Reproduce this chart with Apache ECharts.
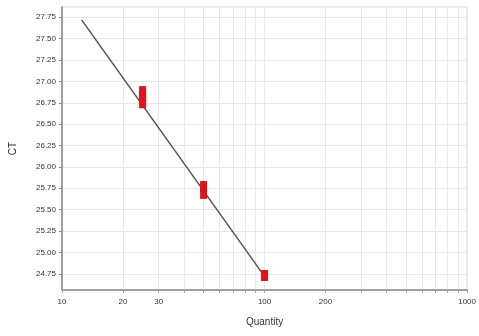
<!DOCTYPE html>
<html>
<head>
<meta charset="utf-8">
<script src="https://cdn.jsdelivr.net/npm/echarts@6/dist/echarts.min.js"></script>
<style>
  html, body { margin: 0; padding: 0; background: #fff; }
  #main { width: 479px; height: 336px; }
</style>
</head>
<body>
<div id="main"></div>
<script>
// standard curve: fitted line + replicate points
var fitQty = [12.5, 100];
var fitCt = [27.72, 24.72];

var sampleQty = [25, 25, 25, 50, 50, 100];
var sampleCt = [26.75, 26.82, 26.88, 25.69, 25.77, 24.73];

var xTickLabels = [10, 20, 30, 100, 200, 1000];
var xGridValues = [10, 20, 30, 40, 50, 60, 70, 80, 90, 100, 200, 300, 400, 500, 600, 700, 800, 900, 1000];
var yTickValues = [24.75, 25.00, 25.25, 25.50, 25.75, 26.00, 26.25, 26.50, 26.75, 27.00, 27.25, 27.50, 27.75];

function pairs(xs, ys) {
  var out = [];
  for (var i = 0; i < xs.length; i++) out.push([xs[i], ys[i]]);
  return out;
}

var myChart = echarts.init(document.getElementById('main'), null, {renderer: 'canvas'});
var font = 'Liberation Sans';
var option = {
  animation: false,
  backgroundColor: '#fff',
  grid: {
    left: 59, right: 11, top: 7, bottom: 46,
    show: true,
    borderColor: '#d8d8d8',
    borderWidth: 1
  },
  xAxis: {
    type: 'log',
    logBase: 10,
    min: 10,
    max: 1000,
    name: 'Quantity',
    nameLocation: 'middle',
    nameGap: 27,
    nameTextStyle: {fontFamily: font, fontSize: 10, color: '#333'},
    axisLine: {lineStyle: {color: '#888', width: 1.5}},
    axisTick: {show: true, length: 3, customValues: xGridValues, lineStyle: {color: '#aaa'}},
    axisLabel: {
      customValues: xTickLabels,
      fontFamily: font, fontSize: 8, color: '#333', margin: 8,
      formatter: function (v) { return String(Math.round(v)); }
    },
    splitLine: {show: true, lineStyle: {color: '#e8e8e8', width: 1}}
  },
  yAxis: {
    type: 'value',
    min: 24.56,
    max: 27.87,
    name: 'CT',
    nameLocation: 'middle',
    nameGap: 44,
    nameRotate: 90,
    nameTextStyle: {fontFamily: font, fontSize: 10, color: '#333'},
    axisLine: {show: true, lineStyle: {color: '#888', width: 1.5}},
    axisTick: {show: true, length: 3, customValues: yTickValues, lineStyle: {color: '#888'}},
    axisLabel: {
      customValues: yTickValues,
      fontFamily: font, fontSize: 8, color: '#333', margin: 6,
      formatter: function (v) { return v.toFixed(2); }
    },
    splitLine: {show: true, lineStyle: {color: '#e8e8e8', width: 1}}
  },
  series: [
    {
      name: 'fit',
      type: 'line',
      data: pairs(fitQty, fitCt),
      showSymbol: false,
      lineStyle: {color: '#555', width: 1.5},
      z: 2
    },
    {
      name: 'samples',
      type: 'scatter',
      data: pairs(sampleQty, sampleCt),
      symbol: 'rect',
      symbolSize: [7, 11],
      itemStyle: {color: '#e0121a', opacity: 1, borderWidth: 0},
      z: 3
    }
  ]
};
myChart.setOption(option);
</script>
</body>
</html>
